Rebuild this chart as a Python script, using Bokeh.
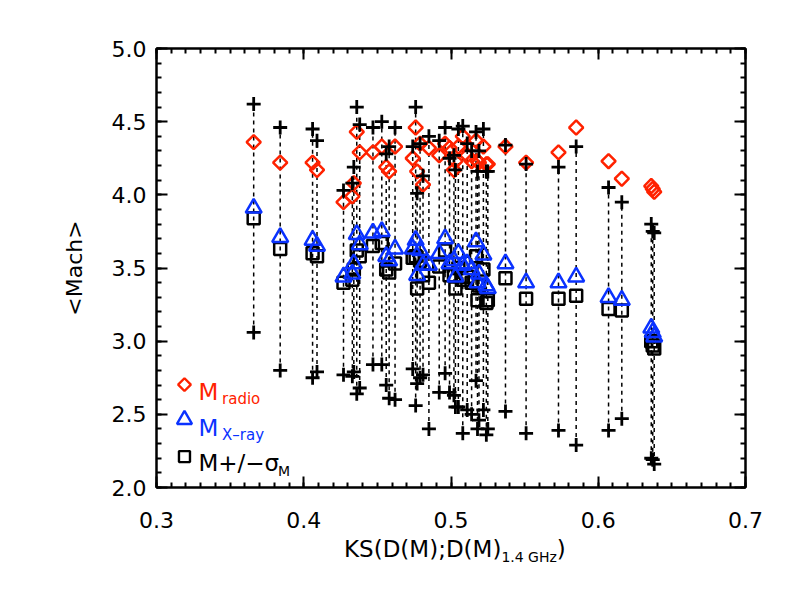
import numpy as np
from bokeh.plotting import figure
from bokeh.layouts import column
from bokeh.models import Range1d, LinearAxis, Label, FixedTicker, CustomJSTickFormatter, NumeralTickFormatter, Div
from bokeh.embed import file_html
from bokeh.resources import INLINE

# ---- data ----
ks = [0.366, 0.384, 0.406, 0.409, 0.427, 0.433, 0.434, 0.436, 0.438, 0.447,
      0.453, 0.456, 0.458, 0.462, 0.474, 0.476, 0.477, 0.479, 0.481, 0.485,
      0.492, 0.496, 0.499, 0.502, 0.503, 0.505, 0.508, 0.511, 0.514, 0.517,
      0.518, 0.519, 0.522, 0.524, 0.525, 0.537, 0.551, 0.573, 0.585, 0.607,
      0.616, 0.636, 0.637, 0.638]
m_radio = [4.36, 4.22, 4.22, 4.17, 3.95, 3.99, 4.08, 4.43, 4.29, 4.29,
           4.33, 4.19, 4.16, 4.33, 4.25, 4.46, 4.16, 4.35, 4.07, 4.32,
           4.27, 4.35, 4.32, 4.17, 4.23, 4.33, 4.40, 4.27, 4.23, 4.37,
           4.23, 4.22, 4.33, 4.21, 4.21, 4.33, 4.22, 4.29, 4.46, 4.23,
           4.11, 4.06, 4.04, 4.02]
m_xray = [3.91, 3.71, 3.69, 3.65, 3.44, 3.46, 3.53, 3.73, 3.66, 3.74,
          3.75, 3.58, 3.55, 3.63, 3.63, 3.69, 3.45, 3.62, 3.52, 3.52,
          3.60, 3.70, 3.53, 3.55, 3.44, 3.60, 3.52, 3.53, 3.49, 3.68,
          3.40, 3.46, 3.59, 3.38, 3.36, 3.53, 3.40, 3.40, 3.44, 3.30,
          3.28, 3.09, 3.06, 3.03]
m_mean = [3.84, 3.63, 3.60, 3.58, 3.40, 3.42, 3.49, 3.62, 3.58, 3.65,
          3.67, 3.49, 3.47, 3.53, 3.57, 3.58, 3.36, 3.55, 3.45, 3.40,
          3.51, 3.62, 3.45, 3.45, 3.36, 3.50, 3.42, 3.44, 3.40, 3.58,
          3.28, 3.38, 3.49, 3.26, 3.28, 3.43, 3.29, 3.29, 3.31, 3.22,
          3.21, 3.00, 2.97, 2.95]
m_sigma = [0.78, 0.83, 0.85, 0.79, 0.63, 0.66, 0.70, 0.98, 0.90, 0.81,
           0.83, 0.79, 0.86, 0.93, 0.76, 1.02, 0.65, 0.80, 0.68, 1.00,
           0.86, 0.84, 0.80, 0.82, 0.81, 0.95, 1.05, 0.91, 0.90, 0.85,
           0.88, 0.92, 0.96, 0.90, 0.88, 0.91, 0.92, 0.90, 1.02, 0.83,
           0.74, 0.80, 0.78, 0.79]
x_ticks = [0.3, 0.4, 0.5, 0.6, 0.7]
y_ticks = [2.0, 2.5, 3.0, 3.5, 4.0, 4.5, 5.0]

RED = "#ff2200"
BLUE = "#0a32ff"
FONT = "DejaVu Sans"

m_hi = [m + s for m, s in zip(m_mean, m_sigma)]
m_lo = [m - s for m, s in zip(m_mean, m_sigma)]

p = figure(width=775, height=537, output_backend="svg", toolbar_location=None,
           x_range=Range1d(0.3, 0.7), y_range=Range1d(2.0, 5.0),
           min_border_left=156, min_border_right=30, min_border_top=48, min_border_bottom=50,
           x_axis_location=None, y_axis_location=None)
p.grid.visible = False
p.outline_line_color = "black"
p.outline_line_width = 2
p.background_fill_color = "white"
p.border_fill_color = "white"

xt = FixedTicker(ticks=x_ticks, minor_ticks=list(np.round(np.arange(0.3, 0.7001, 0.01), 3)))
yt = FixedTicker(ticks=y_ticks, minor_ticks=list(np.round(np.arange(2.0, 5.0001, 0.1), 2)))

def style_axis(ax, labels=True):
    ax.axis_line_width = 2
    ax.major_tick_line_width = 2
    ax.minor_tick_line_width = 2
    ax.major_tick_in = 11
    ax.major_tick_out = 0
    ax.minor_tick_in = 5
    ax.minor_tick_out = 0
    ax.major_label_text_font = FONT
    ax.major_label_text_font_size = "22px"
    ax.major_label_text_color = "black"
    ax.axis_label_text_font = FONT
    ax.axis_label_text_font_style = "normal"
    ax.axis_label_text_font_size = "22px"
    ax.axis_label_text_color = "black"
    if not labels:
        ax.formatter = CustomJSTickFormatter(code="return ''")

bx = LinearAxis(ticker=xt, formatter=NumeralTickFormatter(format="0.0"))
style_axis(bx)
bx.major_label_standoff = 24
p.add_layout(bx, "below")
ly = LinearAxis(ticker=yt, formatter=NumeralTickFormatter(format="0.0"))
style_axis(ly)
ly.major_label_standoff = 10
ly.axis_label = "<Mach>"
ly.axis_label_standoff = 22
p.add_layout(ly, "left")
tx = LinearAxis(ticker=xt)
style_axis(tx, labels=False)
p.add_layout(tx, "above")
ry = LinearAxis(ticker=yt)
style_axis(ry, labels=False)
p.add_layout(ry, "right")

# error bars and markers
p.segment(x0=ks, y0=m_lo, x1=ks, y1=m_hi, line_color="black", line_width=1.5, line_dash="4 4")
p.scatter(ks, m_mean, marker="square", size=12, fill_color=None, line_color="black", line_width=2.5)
p.scatter(ks, m_xray, marker="triangle", size=16, fill_color=None, line_color=BLUE, line_width=2.5)
p.scatter(ks, m_radio, marker="square", angle=np.pi / 4, size=10, fill_color=None, line_color=RED, line_width=2.5)
p.scatter(ks, m_hi, marker="cross", size=14, line_color="black", line_width=2.8)
p.scatter(ks, m_lo, marker="cross", size=14, line_color="black", line_width=2.8)

# ---- legend (layout constants, in data units) ----
LEG_X = 0.319
LEG_TXT = 0.3285
leg_rows = [2.703, 2.464, 2.211]
p.scatter([LEG_X], [leg_rows[0]], marker="square", angle=np.pi / 4, size=9, fill_color=None, line_color=RED, line_width=2.4)
p.scatter([LEG_X], [leg_rows[1]], marker="triangle", size=15, fill_color=None, line_color=BLUE, line_width=2.4)
p.scatter([LEG_X], [leg_rows[2]], marker="square", size=11, fill_color=None, line_color="black", line_width=2.4)

def lab(x, y, text, size, color="black", **kw):
    p.add_layout(Label(x=x, y=y, text=text, text_font=FONT, text_font_size=size,
                       text_color=color, text_baseline="alphabetic", **kw))

lab(LEG_TXT, 2.651, "M", "23px", RED)
lab(0.3445, 2.605, "radio", "15px", RED)
lab(LEG_TXT, 2.405, "M", "23px", BLUE)
lab(0.3445, 2.36, "X\u2013ray", "15px", BLUE)
lab(LEG_TXT, 2.17, "M+/\u2212\u03c3", "23px", "black")
lab(0.3825, 2.11, "M", "14px", "black")

# x axis title (HTML text, below the figure)
xlabel = Div(
    text=("<span style=\"font-family:'DejaVu Sans';font-size:23px;color:black;white-space:nowrap\">"
          "KS(D(M);D(M)<span style=\"font-size:14px;vertical-align:-5px\">1.4 GHz</span>)</span>"),
    width=320, height=30, margin=(-4, 0, 0, 344))

layout = column(p, xlabel, spacing=0)
open("out.html", "w").write(file_html(layout, INLINE))
